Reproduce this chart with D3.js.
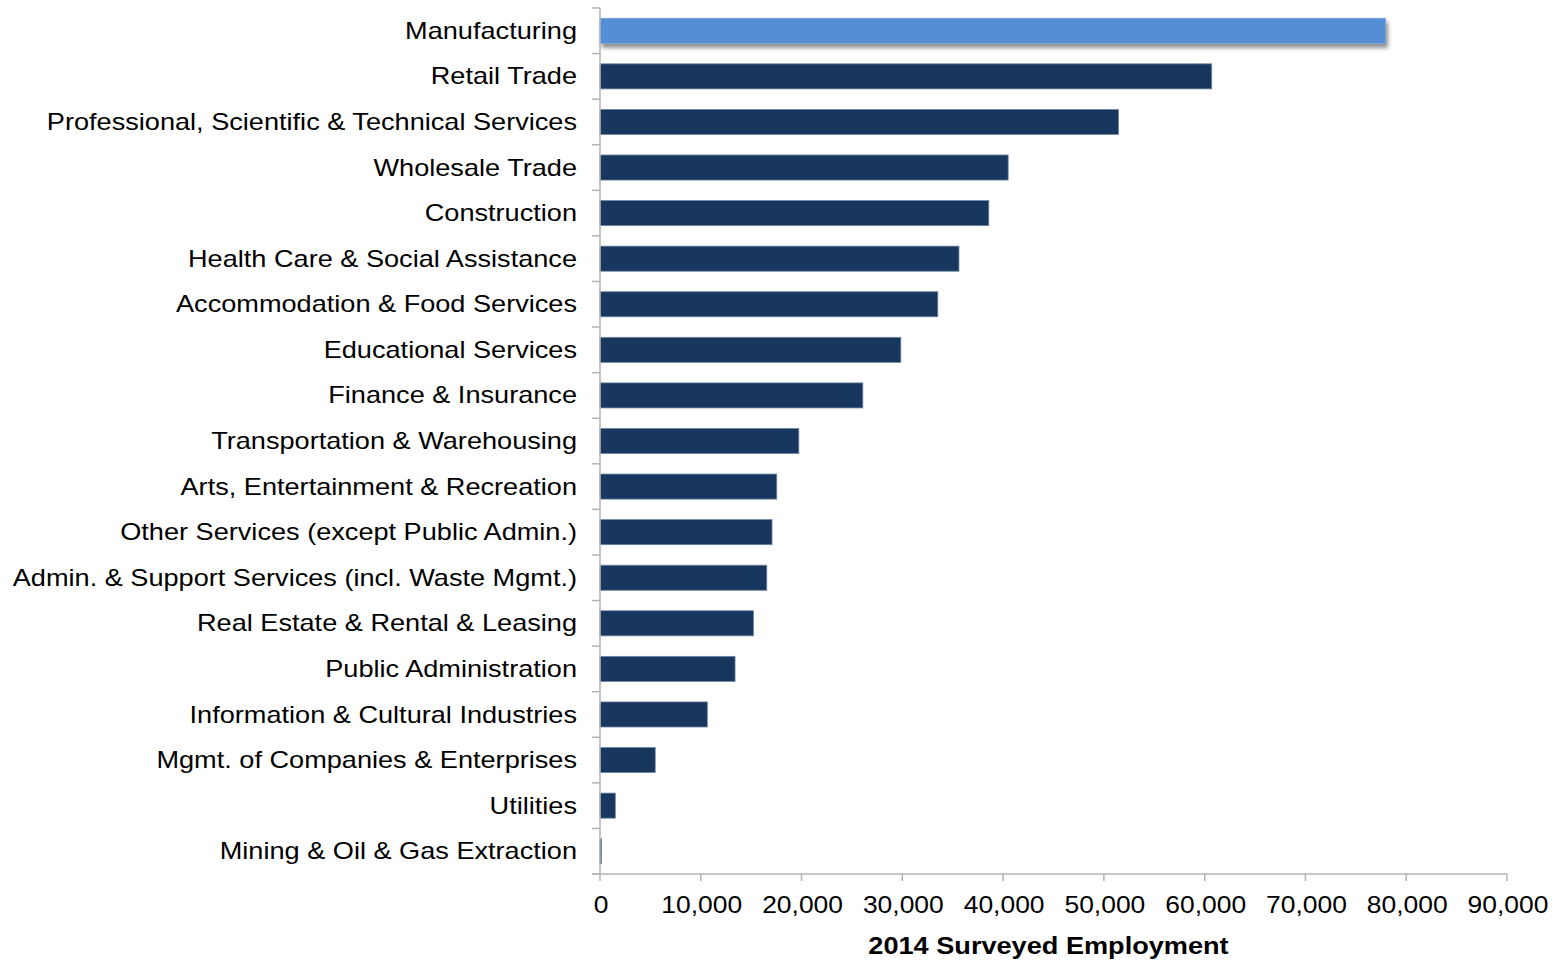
<!DOCTYPE html>
<html>
<head>
<meta charset="utf-8">
<script src="https://cdn.jsdelivr.net/npm/d3@7"></script>
<style>
  html, body { margin: 0; padding: 0; background: #fff; }
  svg { display: block; }
  text { font-family: "Liberation Sans", Arial, sans-serif; fill: #000; }
</style>
</head>
<body>
<svg id="chart" width="1560" height="960"></svg>
<script>
const categories = [
  "Manufacturing",
  "Retail Trade",
  "Professional, Scientific & Technical Services",
  "Wholesale Trade",
  "Construction",
  "Health Care & Social Assistance",
  "Accommodation & Food Services",
  "Educational Services",
  "Finance & Insurance",
  "Transportation & Warehousing",
  "Arts, Entertainment & Recreation",
  "Other Services (except Public Admin.)",
  "Admin. & Support Services (incl. Waste Mgmt.)",
  "Real Estate & Rental & Leasing",
  "Public Administration",
  "Information & Cultural Industries",
  "Mgmt. of Companies & Enterprises",
  "Utilities",
  "Mining & Oil & Gas Extraction"
];
const employment = [
  77950, 60700, 51450, 40500, 38580, 35620, 33520, 29850, 26080, 19730,
  17540, 17070, 16550, 15230, 13400, 10650, 5480, 1520, 150
];
const xTicks = [0, 10000, 20000, 30000, 40000, 50000, 60000, 70000, 80000, 90000];
const axisTitle = "2014 Surveyed Employment";
const highlight = "Manufacturing";

const svg = d3.select("#chart");
const mLeft = 600, mRight = 1507, mTop = 8, mBottom = 874;
const axisColor = "#b3b3b3";
const sx = 1.18, sxTick = 1.15;

const x = d3.scaleLinear().domain([0, 90000]).range([mLeft, mRight]);
const y = d3.scaleBand().domain(categories).range([mTop, mBottom]).paddingInner(0.45).paddingOuter(0.225);

const defs = svg.append("defs");
const f = defs.append("filter").attr("id", "shadow").attr("x", "-5%").attr("y", "-50%").attr("width", "110%").attr("height", "250%");
f.append("feDropShadow").attr("dx", 2).attr("dy", 4).attr("stdDeviation", 2.2).attr("flood-color", "#000").attr("flood-opacity", 0.45);

// bars
svg.append("g").selectAll("rect")
  .data(categories.map((c, i) => ({ c, v: employment[i] })))
  .join("rect")
  .attr("x", x(0))
  .attr("y", d => y(d.c))
  .attr("width", d => Math.max(1, x(d.v) - x(0)))
  .attr("height", y.bandwidth())
  .attr("fill", d => d.c === highlight ? "#558ed5" : "#17375e")
  .attr("stroke", d => d.c === highlight ? "#7aa6e0" : "#6f86a3")
  .attr("stroke-width", 0.8)
  .attr("filter", d => d.c === highlight ? "url(#shadow)" : null);

// y axis
const step = y.step();
const yAxis = svg.append("g");
yAxis.append("line").attr("x1", mLeft).attr("x2", mLeft).attr("y1", mTop).attr("y2", mBottom)
  .attr("stroke", axisColor).attr("stroke-width", 1.5);
yAxis.selectAll("line.tk").data(d3.range(categories.length + 1)).join("line")
  .attr("class", "tk")
  .attr("x1", mLeft - 8).attr("x2", mLeft)
  .attr("y1", i => mTop + i * step).attr("y2", i => mTop + i * step)
  .attr("stroke", axisColor).attr("stroke-width", 1.5);
yAxis.selectAll("text").data(categories).join("text")
  .attr("transform", d => `translate(${mLeft - 23},${y(d) + y.bandwidth() / 2}) scale(${sx},1)`)
  .attr("dy", "0.35em")
  .attr("text-anchor", "end")
  .style("font-size", "23px")
  .text(d => d);

// x axis
const xAxis = svg.append("g");
xAxis.append("line").attr("x1", mLeft - 8).attr("x2", mRight).attr("y1", mBottom).attr("y2", mBottom)
  .attr("stroke", axisColor).attr("stroke-width", 1.5);
xAxis.selectAll("line.tk").data(xTicks).join("line")
  .attr("class", "tk")
  .attr("x1", d => x(d)).attr("x2", d => x(d))
  .attr("y1", mBottom).attr("y2", mBottom + 7)
  .attr("stroke", axisColor).attr("stroke-width", 1.5);
xAxis.selectAll("text").data(xTicks).join("text")
  .attr("transform", d => `translate(${x(d) + 1},905) scale(${sxTick},1)`)
  .attr("dy", "0.35em")
  .attr("text-anchor", "middle")
  .style("font-size", "23px")
  .text(d => d3.format(",")(d));

svg.append("text")
  .attr("transform", `translate(${(mLeft + mRight) / 2 - 5},946) scale(${sx},1)`)
  .attr("dy", "0.35em")
  .attr("text-anchor", "middle")
  .style("font-size", "23px")
  .style("font-weight", "bold")
  .text(axisTitle);
</script>
</body>
</html>
